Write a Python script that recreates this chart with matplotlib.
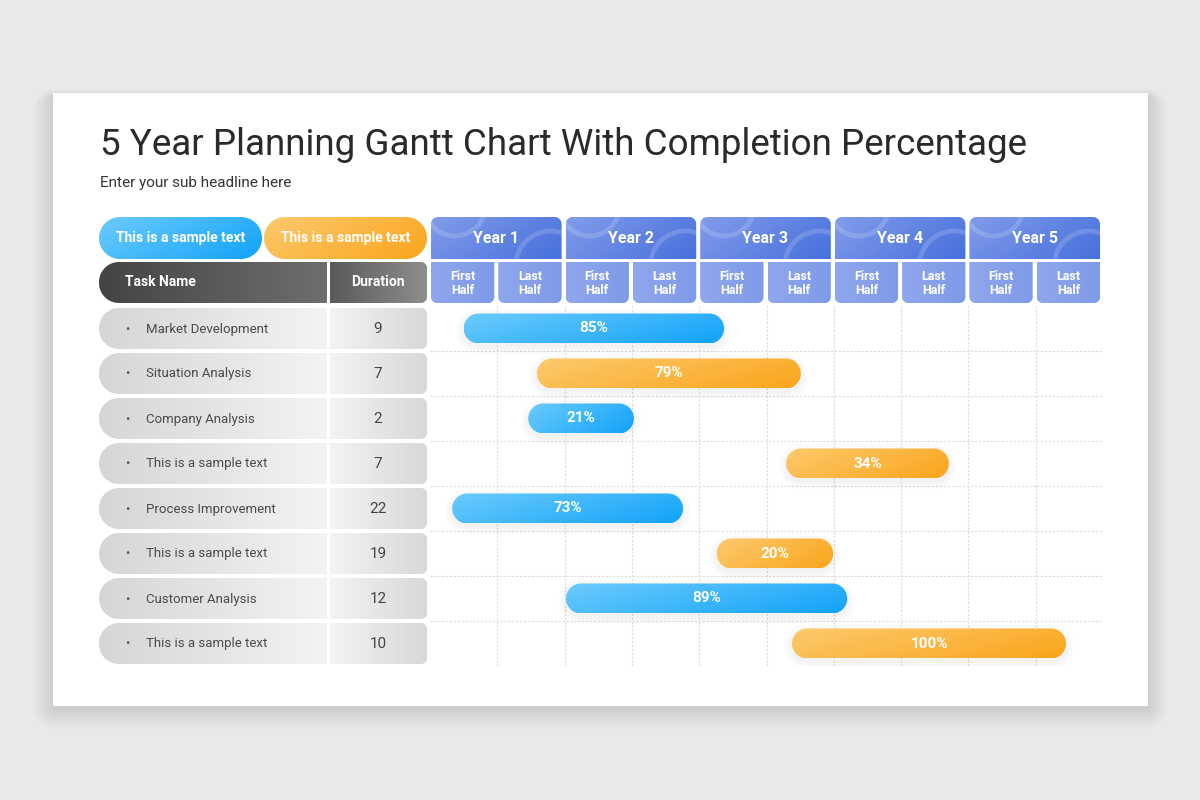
import matplotlib
matplotlib.use('Agg')
import matplotlib.pyplot as plt
import numpy as np
from matplotlib.patches import Polygon, Circle, Rectangle
from matplotlib.colors import to_rgb

plt.rcParams['font.family'] = ['Roboto', 'DejaVu Sans']

# ---- data -------------------------------------------------------------
TITLE = '5 Year Planning Gantt Chart With Completion Percentage'
SUBTITLE = 'Enter your sub headline here'
LEGEND_TEXT = ['This is a sample text', 'This is a sample text']
YEARS = ['Year 1', 'Year 2', 'Year 3', 'Year 4', 'Year 5']
HALVES = ['First\nHalf', 'Last\nHalf']
TASKS = ['Market Development', 'Situation Analysis', 'Company Analysis',
         'This is a sample text', 'Process Improvement', 'This is a sample text',
         'Customer Analysis', 'This is a sample text']
DURATIONS = [9, 7, 2, 7, 22, 19, 12, 10]
# bar start / end in half-year units (0 = start of Year 1)
BAR_START = [0.50, 1.59, 1.46, 5.29, 0.33, 4.26, 2.02, 5.38]
BAR_END = [4.37, 5.51, 3.03, 7.71, 3.76, 5.99, 6.20, 9.45]
COMPLETION = [85, 79, 21, 34, 73, 20, 89, 100]
BAR_KIND = ['blue', 'orange', 'blue', 'orange', 'blue', 'orange', 'blue', 'orange']

# ---- style ------------------------------------------------------------
BG = '#e9e8ea'
BLUE = ('#6ccbfc', '#12a3f8')
ORANGE = ('#fdca6e', '#f9a51b')
YEAR_GRAD = ('#829cea', '#4670dc')
HALF_COL = ('#8fa7ec', '#7f9ae8')
HEAD_TASK = ('#444444', '#6e6e6e')
HEAD_DUR = ('#5a5a5a', '#8e8e8e')
ROW_TASK = ('#d6d6d6', '#f3f3f3')
ROW_DUR = ('#f3f3f3', '#d8d8d8')
GRID = '#dcdcdc'

X0, UNIT = 430.0, 67.3      # gantt origin / pixels per half year
ROW_TOP, ROW_PITCH = 306.0, 45.0


def round_rect(x0, y0, x1, y1, radii, kx=1.0, ky=1.0, n=16):
    """Polygon vertices of a rectangle (y pointing down) with per-corner radii."""
    tl, tr, br, bl = radii
    pts = []
    for (cx, cy, r, a0) in [(x0, y0, tl, 180), (x1, y0, tr, 270),
                            (x1, y1, br, 0), (x0, y1, bl, 90)]:
        rx, ry = r * kx, r * ky
        sx = 1 if cx == x0 else -1
        sy = 1 if cy == y0 else -1
        ccx, ccy = cx + sx * rx, cy + sy * ry
        a = np.radians(np.linspace(a0, a0 + 90, n))
        pts.extend(zip(ccx + rx * np.cos(a), ccy + ry * np.sin(a)))
    return np.array(pts)


def gradient(ax, verts, c0, c1, diag=False, z=2):
    patch = Polygon(verts, closed=True, facecolor='none', edgecolor='none', zorder=z)
    ax.add_patch(patch)
    a, b = np.array(to_rgb(c0)), np.array(to_rgb(c1))
    u = np.linspace(0, 1, 128)
    if diag:
        t = (u[None, :] * 0.7 + u[:, None] * 0.3)
    else:
        t = np.tile(u, (2, 1))
    img = a + (b - a) * t[..., None]
    x0, y0 = verts.min(axis=0)
    x1, y1 = verts.max(axis=0)
    im = ax.imshow(img, extent=(x0, x1, y1, y0), aspect='auto', zorder=z,
                   interpolation='bilinear')
    im.set_clip_path(patch)
    return patch


fig = plt.figure(figsize=(12, 8), dpi=100, facecolor=BG)
ax = fig.add_axes([0, 0, 1, 1])
ax.set_xlim(0, 1200)
ax.set_ylim(800, 0)
ax.set_autoscale_on(False)
ax.axis('off')

# card with soft shadow
for i in range(14):
    g = i * 1.5
    ax.add_patch(Polygon(round_rect(53 - g, 93 + 4 - g * 0.4, 1148 + g, 706 + 3 + g,
                                    (g + 1,) * 4),
                         closed=True, facecolor='black', alpha=0.0065,
                         edgecolor='none', zorder=0))
ax.add_patch(Rectangle((53, 93), 1095, 613, facecolor='white', edgecolor='none', zorder=1))

ax.text(100, 155, TITLE, fontsize=26.5, color='#2a2a2a', va='baseline', ha='left', zorder=5)
ax.text(100, 187, SUBTITLE, fontsize=11, color='#333333', va='baseline', ha='left', zorder=5)

# legend pills
for (x0, x1), txt, cols in zip([(99, 262), (264, 427)], LEGEND_TEXT, [BLUE, ORANGE]):
    gradient(ax, round_rect(x0, 217, x1, 259, (21, 21, 21, 21)), cols[0], cols[1], diag=True)
    ax.text((x0 + x1) / 2, 238, txt, fontsize=10, fontweight='bold', color='white',
            ha='center', va='center', zorder=5)

# table header
gradient(ax, round_rect(99, 262, 327, 303, (20, 0, 0, 20)), HEAD_TASK[0], HEAD_TASK[1])
gradient(ax, round_rect(330, 262, 427, 303, (0, 6, 6, 0)), HEAD_DUR[0], HEAD_DUR[1])
ax.text(125, 282.5, 'Task Name', fontsize=10, fontweight='bold', color='white',
        va='center', zorder=5)
ax.text(378, 282.5, 'Duration', fontsize=10, fontweight='bold', color='white',
        ha='center', va='center', zorder=5)

# year headers
for k, year in enumerate(YEARS):
    x0 = 431 + k * 2 * UNIT
    x1 = x0 + 2 * UNIT - 4
    box = gradient(ax, round_rect(x0, 217, x1, 259, (7, 7, 0, 0)),
                   YEAR_GRAD[0], YEAR_GRAD[1], diag=True)
    for (cx, cy, r) in [(x0 + 24, 206, 30), (x1 - 11, 266, 35)]:
        c = Circle((cx, cy), r, fill=False, edgecolor='white', lw=3.5, alpha=0.16, zorder=3)
        ax.add_patch(c)
        c.set_clip_path(box)
    ax.text((x0 + x1) / 2, 238.5, year, fontsize=11.5, fontweight='bold', color='white',
            ha='center', va='center', zorder=5)
    for h, half in enumerate(HALVES):
        hx0 = x0 + h * UNIT
        hx1 = hx0 + UNIT - 4
        gradient(ax, round_rect(hx0, 262, hx1, 303, (0, 0, 6, 6)), HALF_COL[0], HALF_COL[1])
        ax.text((hx0 + hx1) / 2, 283.5, half, fontsize=9, fontweight='bold', color='white',
                ha='center', va='center', linespacing=1.15, zorder=5)

# task rows
for i, (task, dur) in enumerate(zip(TASKS, DURATIONS)):
    y0 = ROW_TOP + 2 + i * ROW_PITCH
    y1 = y0 + 41
    cy = (y0 + y1) / 2 + 0.5
    gradient(ax, round_rect(99, y0, 327, y1, (20, 0, 0, 20)), ROW_TASK[0], ROW_TASK[1])
    gradient(ax, round_rect(330, y0, 427, y1, (0, 6, 6, 0)), ROW_DUR[0], ROW_DUR[1])
    ax.text(127, cy, '•', fontsize=9, color='#555555', ha='center', va='center', zorder=5)
    ax.text(146, cy, task, fontsize=9.5, color='#4a4a4a', va='center', zorder=5)
    ax.text(378, cy, str(dur), fontsize=11, color='#444444', ha='center', va='center', zorder=5)

# ---- gantt axes -------------------------------------------------------
n = len(TASKS)
gx = fig.add_axes([X0 / 1200, (800 - (ROW_TOP + n * ROW_PITCH)) / 800,
                   10 * UNIT / 1200, n * ROW_PITCH / 800])
gx.set_xlim(0, 10)
gx.set_ylim(n, 0)
gx.set_autoscale_on(False)
gx.axis('off')
gx.patch.set_alpha(0)

for k in range(1, 10):
    gx.axvline(k, color=GRID, lw=0.8, ls=(0, (2, 1.5)), zorder=1)
for r in range(1, n):
    gx.axhline(r, color=GRID, lw=0.8, ls=(0, (2, 1.5)), zorder=1)

kx, ky = 1 / UNIT, 1 / ROW_PITCH
bar_h = 30 * ky
for i in range(n):
    cols = BLUE if BAR_KIND[i] == 'blue' else ORANGE
    s, e = BAR_START[i], BAR_END[i]
    yc = i + 0.5
    for j in range(4):
        g = 1.5 + j * 2
        sh = round_rect(s - g * kx, yc - bar_h / 2 - g * ky + 3 * ky,
                        e + g * kx, yc + bar_h / 2 + g * ky + 3 * ky,
                        (15 + g,) * 4, kx, ky)
        gx.add_patch(Polygon(sh, closed=True, facecolor='#000000', alpha=0.012,
                             edgecolor='none', zorder=2))
    verts = round_rect(s, yc - bar_h / 2, e, yc + bar_h / 2, (15, 15, 15, 15), kx, ky)
    gradient(gx, verts, cols[0], cols[1], diag=True, z=3)
    gx.text((s + e) / 2, yc, f'{COMPLETION[i]}%', fontsize=11, fontweight='bold',
            color='white', ha='center', va='center', zorder=5)

fig.savefig('out.png', dpi=100, facecolor=BG)
